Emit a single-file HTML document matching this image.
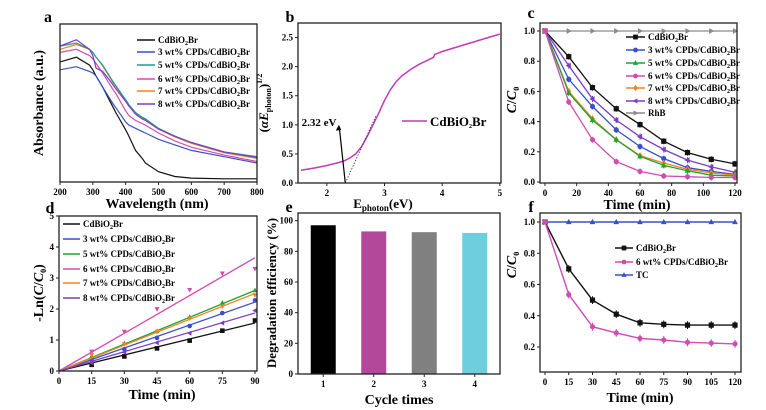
<!DOCTYPE html>
<html><head><meta charset="utf-8">
<style>
html,body{margin:0;padding:0;background:#fff;}
svg{display:block;font-family:"Liberation Serif",serif;font-weight:bold;}
</style></head>
<body>
<svg id="fig" width="766" height="410" viewBox="0 0 766 410" xmlns="http://www.w3.org/2000/svg"></svg>
<script>
// ---------- Panel a data ----------
const aX = [200,250,290,300,310,330,360,370,400,410,430,450,460,500,550,600,700,800];
const aBlack  = [0.76,0.79,0.74,0.71,0.67,0.60,0.48,0.44,0.33,0.29,0.20,0.15,0.12,0.065,0.035,0.025,0.02,0.02];
const aBlue   = [0.71,0.73,0.70,0.69,0.67,0.60,0.50,0.47,0.38,0.36,0.34,0.32,0.31,0.27,0.235,0.20,0.16,0.12];
const aGreen  = [0.86,0.88,0.84,0.82,0.79,0.74,0.64,0.61,0.52,0.49,0.44,0.41,0.40,0.34,0.29,0.25,0.19,0.16];
const aMag    = [0.82,0.84,0.80,0.78,0.75,0.69,0.59,0.56,0.45,0.42,0.39,0.37,0.36,0.31,0.26,0.22,0.17,0.13];
const aOrange = [0.84,0.87,0.84,0.82,0.79,0.735,0.635,0.605,0.515,0.485,0.435,0.405,0.395,0.335,0.285,0.245,0.185,0.15];
const aPurple = [0.86,0.90,0.84,0.80,0.72,0.70,0.62,0.59,0.51,0.48,0.43,0.40,0.39,0.335,0.29,0.25,0.19,0.155];
const aTicks = [200,300,400,500,600,700,800];
// ---------- Panel b data ----------
const bX = [1.55,1.8,2.0,2.2,2.3,2.4,2.5,2.6,2.7,2.8,2.9,3.0,3.1,3.2,3.3,3.45,3.6,3.75,3.85,3.87,4.0,4.2,4.4,4.6,4.8,5.0];
const bY = [0.22,0.26,0.30,0.35,0.38,0.43,0.50,0.62,0.80,1.00,1.20,1.42,1.60,1.74,1.84,1.95,2.04,2.11,2.16,2.21,2.26,2.32,2.38,2.44,2.50,2.56];
const bGap = 2.32;
const bXTicks = [2,3,4,5];
const bYTicks = [0,0.5,1.0,1.5,2.0,2.5];
// ---------- Panel c data ----------
const cT = [0,15,30,45,60,75,90,105,120];
const cBlack  = [1,0.83,0.625,0.485,0.38,0.27,0.195,0.15,0.12];
const cBlue   = [1,0.68,0.50,0.345,0.235,0.155,0.095,0.07,0.05];
const cGreen  = [1,0.59,0.41,0.28,0.17,0.11,0.075,0.045,0.04];
const cMag    = [1,0.53,0.28,0.135,0.07,0.04,0.035,0.03,0.03];
const cOrange = [1,0.60,0.42,0.28,0.175,0.125,0.085,0.06,0.045];
const cPurple = [1,0.77,0.55,0.41,0.30,0.215,0.145,0.10,0.065];
const cRhB    = [1,1,1,1,1,1,1,1,1];
const cXTicks = [0,20,40,60,80,100,120];
const cYTicks = [0,0.2,0.4,0.6,0.8,1.0];
// ---------- Panel d data ----------
const dT = [0,15,30,45,60,75,90];
const dBlack  = [0,0.20,0.47,0.73,0.98,1.30,1.63];
const dBlue   = [0,0.38,0.70,1.07,1.45,1.87,2.28];
const dGreen  = [0,0.47,0.89,1.28,1.74,2.20,2.60];
const dMag    = [0,0.63,1.27,2.00,2.62,3.15,3.30];
const dOrange = [0,0.52,0.87,1.27,1.70,2.08,2.45];
const dPurple = [0,0.26,0.60,0.91,1.22,1.55,1.95];
const dSlopes = [0.0172,0.0247,0.0289,0.0406,0.0278,0.0208];
const dXTicks = [0,15,30,45,60,75,90];
const dYTicks = [0,1,2,3,4,5];
// ---------- Panel e data ----------
const eCycles = [1,2,3,4];
const eEff = [97,93,92.5,92];
const eYTicks = [0,20,40,60,80,100];
// ---------- Panel f data ----------
const fT = [0,15,30,45,60,75,90,105,120];
const fBlack = [1,0.70,0.50,0.41,0.355,0.345,0.34,0.34,0.34];
const fMag   = [1,0.535,0.33,0.29,0.255,0.245,0.23,0.225,0.22];
const fTC    = [1,1,1,1,1,1,1,1,1];
const fXTicks = [0,15,30,45,60,75,90,105,120];
const fYTicks = [0.2,0.4,0.6,0.8,1.0];

const C = {k:'#111',b:'#3b50c8',g:'#1fa531',m:'#d04cb3',o:'#f58220',p:'#7b3fc2',gr:'#8a8a8a'};
const svg = document.getElementById('fig');
const NS = 'http://www.w3.org/2000/svg';
function mk(tag, attrs, name, parent){
  const el = document.createElementNS(NS, tag);
  for (const k in attrs) el.setAttribute(k, attrs[k]);
  
  
  (parent||svg).appendChild(el);
  return el;
}
function txt(x,y,s,size,name,anchor,extra){
  const t = mk('text',Object.assign({x:x,y:y,'font-size':size,'text-anchor':anchor||'middle'},extra||{}),name);
  t.innerHTML = s;
  return t;
}
function scale(d0,d1,r0,r1){return v=>r0+(v-d0)/(d1-d0)*(r1-r0);}
function frame(box,name){
  mk('rect',{x:box.l,y:box.t,width:box.r-box.l,height:box.b-box.t,fill:'none',stroke:'#222','stroke-width':1.3},name);
}
function xticks(ticks,sx,box,name,fmt){
  ticks.forEach(v=>{
    mk('line',{x1:sx(v),x2:sx(v),y1:box.b,y2:box.b+3,stroke:'#222','stroke-width':1},name+'-tick');
    txt(sx(v),box.b+13,fmt?fmt(v):v,9,name+'-label');
  });
}
function yticks(ticks,sy,box,name,fmt){
  ticks.forEach(v=>{
    mk('line',{x1:box.l-3,x2:box.l,y1:sy(v),y2:sy(v),stroke:'#222','stroke-width':1},name+'-tick');
    txt(box.l-5,sy(v)+3,fmt?fmt(v):v,9,name+'-label','end');
  });
}
function line(xs,ys,sx,sy,color,name,w){
  const p = xs.map((x,i)=>(i?'L':'M')+sx(x).toFixed(1)+' '+sy(ys[i]).toFixed(1)).join(' ');
  return mk('path',{d:p,fill:'none',stroke:color,'stroke-width':w||1.4},name);
}
function marker(x,y,shape,color,name,r){
  r = r||2.6;
  let el;
  if(shape==='s') el = mk('rect',{x:x-r,y:y-r,width:2*r,height:2*r,fill:color},name);
  else if(shape==='c') el = mk('circle',{cx:x,cy:y,r:r,fill:color},name);
  else {
    let pts;
    if(shape==='u') pts=[[x,y-r*1.2],[x-r*1.1,y+r*0.8],[x+r*1.1,y+r*0.8]];
    else if(shape==='d') pts=[[x,y+r*1.2],[x-r*1.1,y-r*0.8],[x+r*1.1,y-r*0.8]];
    else if(shape==='l') pts=[[x-r*1.2,y],[x+r*0.8,y-r*1.1],[x+r*0.8,y+r*1.1]];
    else if(shape==='r') pts=[[x+r*1.2,y],[x-r*0.8,y-r*1.1],[x-r*0.8,y+r*1.1]];
    else pts=[[x,y-r*1.3],[x+r,y],[x,y+r*1.3],[x-r,y]];
    el = mk('polygon',{points:pts.map(p=>p.join(',')).join(' '),fill:color},name);
  }
  return el;
}
const CPD = n=>n+' wt% CPDs/CdBiO<tspan font-size="6" dy="2">2</tspan><tspan dy="-2">Br</tspan>';
const CBB = 'CdBiO<tspan font-size="6" dy="2">2</tspan><tspan dy="-2">Br</tspan>';
function legendRow(x1,x2,y,color,shape,label,name){
  mk('line',{x1:x1,x2:x2,y1:y,y2:y,stroke:color,'stroke-width':1.5},name+'-line');
  if(shape) marker((x1+x2)/2,y,shape,color,name+'-marker',2.4);
  txt(x2+3,y+3,label,9,name+'-text','start');
}

// ================= Panel a =================
(function(){
  const box={l:60,r:257,t:24,b:182};
  const sx=scale(200,800,box.l,box.r), sy=scale(0,1,box.b,box.t);
  [[aBlack,C.k,'a-line-cdbio2br'],[aBlue,C.b,'a-line-3wt'],[aMag,C.m,'a-line-6wt'],[aOrange,C.o,'a-line-7wt'],[aGreen,'#1a9e8e','a-line-5wt'],[aPurple,C.p,'a-line-8wt']]
    .forEach(s=>line(aX,s[0],sx,sy,s[1],s[2],1.2));
  frame(box,'a-plot-frame');
  xticks(aTicks,sx,box,'a-x-axis');
  txt(48,22,'a',16,'a-panel-label');
  txt(157,208,'Wavelength (nm)',14,'a-x-axis-title');
  txt(43,103,'Absorbance (a.u.)',14,'a-y-axis-title','middle',{transform:'rotate(-90 43 103)'});
  const rows=[[40,C.k,CBB,'cdbio2br'],[52,C.b,CPD(3),'3wt'],[65,'#1a9e8e',CPD(5),'5wt'],[79,C.m,CPD(6),'6wt'],[91,C.o,CPD(7),'7wt'],[104,C.p,CPD(8),'8wt']];
  rows.forEach(r=>legendRow(137,155,r[0],r[1],null,r[2],'a-legend-'+r[3]));
})();

// ================= Panel b =================
(function(){
  const box={l:298,r:501,t:23,b:183};
  const sx=scale(1.5,5.02,box.l,box.r), sy=scale(0,2.75,box.b,box.t);
  line(bX,bY,sx,sy,'#c639b5','b-tauc-curve',1.5);
  mk('line',{x1:sx(bGap),y1:sy(0),x2:sx(2.85),y2:sy(1.15),stroke:'#333','stroke-width':0.8,'stroke-dasharray':'1.5,1.5'},'b-tangent-line');
  mk('line',{x1:sx(bGap),y1:sy(0),x2:sx(2.22),y2:sy(0.92),stroke:'#000','stroke-width':1.2},'b-arrow-line');
  mk('polygon',{points:`${sx(2.21)},${sy(1.0)} ${sx(2.19)-2},${sy(0.9)} ${sx(2.25)},${sy(0.91)}`,fill:'#000'},'b-arrow-head');
  frame(box,'b-plot-frame');
  xticks(bXTicks,sx,box,'b-x-axis');
  yticks(bYTicks,sy,box,'b-y-axis',v=>v.toFixed(1));
  txt(290,22,'b',16,'b-panel-label');
  txt(bGap===2.32?319:319,126,bGap.toFixed(2)+' eV',11,'b-gap-annotation');
  legendRow(402,427,121,'#c639b5',null,'','b-legend-cdbio2br');
  txt(430,126,CBB,13,'b-legend-text','start');
  txt(383,208,'E<tspan font-size="9" dy="3">photon</tspan><tspan dy="-3">(eV)</tspan>',13,'b-x-axis-title');
  txt(268,103,'(<tspan font-style="italic">αE</tspan><tspan font-size="8" dy="3">photon</tspan><tspan dy="-3">)</tspan><tspan font-size="8" dy="-6">1/2</tspan>',13,'b-y-axis-title','middle',{transform:'rotate(-90 268 103)'});
})();

// ================= Panel c =================
(function(){
  const box={l:540,r:737,t:23,b:183};
  const sx=scale(0,120,545,735), sy=scale(0,1,182,31);
  const series=[[cRhB,C.gr,'r','rhb'],[cBlack,C.k,'s','cdbio2br'],[cPurple,C.p,'l','8wt'],[cBlue,C.b,'c','3wt'],[cOrange,C.o,'x','7wt'],[cGreen,C.g,'u','5wt'],[cMag,C.m,'c','6wt']];
  series.forEach(s=>{
    line(cT,s[0],sx,sy,s[1],'c-line-'+s[3],1.3);
    cT.forEach((t,i)=>{
      if(s[3]!=='rhb' && i>0) mk('line',{x1:sx(t),x2:sx(t),y1:sy(s[0][i]-0.02),y2:sy(s[0][i]+0.02),stroke:s[1],'stroke-width':1},'c-errorbar-'+s[3]);
      marker(sx(t),sy(s[0][i]),s[2],s[1],'c-point-'+s[3]);
    });
  });
  frame(box,'c-plot-frame');
  xticks(cXTicks,sx,box,'c-x-axis');
  yticks(cYTicks,sy,box,'c-y-axis',v=>v.toFixed(1));
  txt(531,18,'c',16,'c-panel-label');
  txt(637,209,'Time (min)',14,'c-x-axis-title');
  txt(516,100,'<tspan font-style="italic">C</tspan>/<tspan font-style="italic">C</tspan><tspan font-size="8" dy="3">0</tspan>',14,'c-y-axis-title','middle',{transform:'rotate(-90 516 100)'});
  const rows=[[37,C.k,'s',CBB,'cdbio2br'],[50,C.b,'c',CPD(3),'3wt'],[63,C.g,'u',CPD(5),'5wt'],[76,C.m,'c',CPD(6),'6wt'],[88,C.o,'x',CPD(7),'7wt'],[101,C.p,'l',CPD(8),'8wt'],[113,C.gr,'r','RhB','rhb']];
  rows.forEach(r=>legendRow(626,645,r[0],r[1],r[2],r[3],'c-legend-'+r[4]));
})();

// ================= Panel d =================
(function(){
  const box={l:59,r:257,t:216,b:371};
  const sx=scale(0,90,59,255), sy=scale(0,5,371,216);
  const series=[[dBlack,C.k,'s','cdbio2br'],[dBlue,C.b,'c','3wt'],[dGreen,C.g,'u','5wt'],[dMag,C.m,'d','6wt'],[dOrange,C.o,'d','7wt'],[dPurple,C.p,'l','8wt']];
  series.forEach((s,k)=>{
    mk('line',{x1:sx(0),y1:sy(0),x2:sx(90),y2:sy(dSlopes[k]*90),stroke:s[1],'stroke-width':1.3},'d-fit-line-'+s[3]);
    dT.forEach((t,i)=>{ if(i>0) marker(sx(t),sy(s[0][i]),s[2],s[1],'d-point-'+s[3],2.3); });
  });
  frame(box,'d-plot-frame');
  xticks(dXTicks,sx,box,'d-x-axis');
  yticks(dYTicks,sy,box,'d-y-axis');
  txt(50,213,'d',16,'d-panel-label');
  txt(162,399,'Time (min)',14,'d-x-axis-title');
  txt(43,293,'-Ln(<tspan font-style="italic">C</tspan>/<tspan font-style="italic">C</tspan><tspan font-size="8" dy="3">0</tspan><tspan dy="-3">)</tspan>',14,'d-y-axis-title','middle',{transform:'rotate(-90 43 293)'});
  const rows=[[224,C.k,CBB,'cdbio2br'],[239,C.b,CPD(3),'3wt'],[254,C.g,CPD(5),'5wt'],[269,C.m,CPD(6),'6wt'],[283,C.o,CPD(7),'7wt'],[298,C.p,CPD(8),'8wt']];
  rows.forEach(r=>legendRow(63,80,r[0],r[1],null,r[2],'d-legend-'+r[3]));
})();

// ================= Panel e =================
(function(){
  const box={l:298,r:500,t:213,b:374};
  const sx=scale(0.5,4.5,box.l,box.r), sy=scale(0,105,box.b,box.t);
  const cols=['#000000','#b5479b','#808080','#6dcfde'];
  eCycles.forEach((c,i)=>{
    mk('rect',{x:sx(c)-12.5,y:sy(eEff[i]),width:25,height:sy(0)-sy(eEff[i]),fill:cols[i]},'e-bar-cycle-'+c);
  });
  frame(box,'e-plot-frame');
  xticks(eCycles,sx,box,'e-x-axis');
  yticks(eYTicks,sy,box,'e-y-axis');
  txt(289,212,'e',16,'e-panel-label');
  txt(399,404,'Cycle times',14,'e-x-axis-title');
  txt(276,293,'Degradation efficiency (%)',13,'e-y-axis-title','middle',{transform:'rotate(-90 276 293)'});
})();

// ================= Panel f =================
(function(){
  const box={l:540,r:741,t:213,b:372};
  const sx=scale(0,120,545,735), sy=scale(0.2,1.0,347,222);
  const series=[[fTC,C.b,'u','tc'],[fBlack,C.k,'s','cdbio2br'],[fMag,C.m,'c','6wt']];
  series.forEach(s=>{
    line(fT,s[0],sx,sy,s[1],'f-line-'+s[3],1.4);
    fT.forEach((t,i)=>{
      if(s[3]!=='tc' && i>0) mk('line',{x1:sx(t),x2:sx(t),y1:sy(s[0][i]-0.025),y2:sy(s[0][i]+0.025),stroke:s[1],'stroke-width':1},'f-errorbar-'+s[3]);
      marker(sx(t),sy(s[0][i]),s[2],s[1],'f-point-'+s[3]);
    });
  });
  frame(box,'f-plot-frame');
  xticks(fXTicks,sx,box,'f-x-axis');
  yticks(fYTicks,sy,box,'f-y-axis',v=>v.toFixed(1));
  txt(531,212,'f',16,'f-panel-label');
  txt(640,402,'Time (min)',14,'f-x-axis-title');
  txt(516,265,'<tspan font-style="italic">C</tspan>/<tspan font-style="italic">C</tspan><tspan font-size="8" dy="3">0</tspan>',14,'f-y-axis-title','middle',{transform:'rotate(-90 516 265)'});
  const rows=[[248,C.k,'s',CBB,'cdbio2br'],[262,C.m,'c',CPD(6),'6wt'],[275,C.b,'u','TC','tc']];
  rows.forEach(r=>legendRow(615,633,r[0],r[1],r[2],r[3],'f-legend-'+r[4]));
})();
</script>
</body></html>
